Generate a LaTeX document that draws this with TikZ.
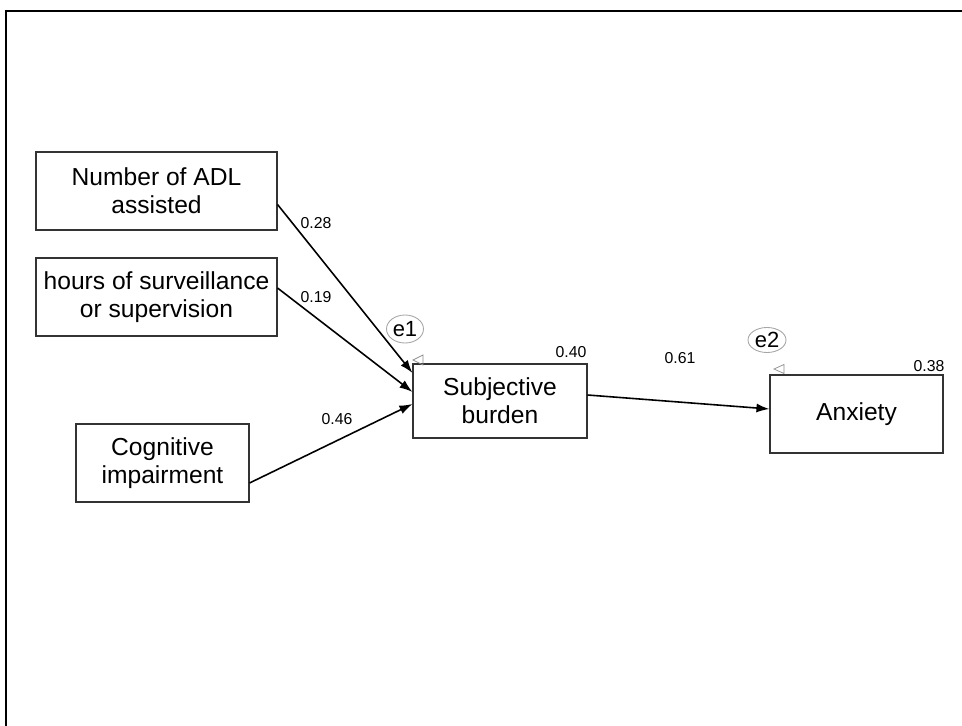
\documentclass[tikz,border=0pt]{standalone}
\usepackage{fontspec}
\setmainfont{Liberation Sans}
\usetikzlibrary{arrows.meta, shapes.geometric}

\tikzset{%
  % Specifications for style of nodes:
         varbox/.style = {rectangle, draw = black!80, line width=0.6pt, minimum height=1.56cm, align=center, font=\fontsize{14}{16}\selectfont},
         errvar/.style = {ellipse, draw = black!35, line width=0.5pt, inner sep=0pt, minimum width=0.74cm, minimum height=0.56cm, font=\fontsize{12.5}{14}\selectfont},
         coef/.style   = {font=\fontsize{9}{10}\selectfont, inner sep=0pt},
         path/.style   = {-{Latex[length=2.6mm,width=1.8mm]}, line width=0.9pt},
         tri/.style    = {draw = black!45, line width=0.4pt},
}

\begin{document}
\begin{tikzpicture}[x=1cm, y=1cm]
    \useasboundingbox (0,0) rectangle (19.24,-14.52);
    % Frame
    \draw[line width=1.1pt] (0.12,-14.6) -- (0.12,-0.22) -- (19.4,-0.22);

    % Draw nodes
    \node (adl)   [varbox, minimum width=4.82cm] at (3.13,-3.82) {Number of ADL\\assisted};
    \node (hours) [varbox, minimum width=4.82cm] at (3.13,-5.94) {hours of surveillance\\or supervision};
    \node (cog)   [varbox, minimum width=3.46cm] at (3.25,-9.26) {Cognitive\\impairment};
    \node (burd)  [varbox, minimum width=3.48cm, minimum height=1.48cm] at (10.0,-8.02) {Subjective\\burden};
    \node (anx)   [varbox, minimum width=3.46cm] at (17.13,-8.28) {Anxiety};

    % Error terms
    \node (e1) [errvar] at (8.10,-6.58) {e1};
    \node (e2) [errvar, minimum width=0.76cm, minimum height=0.50cm] at (15.34,-6.80) {e2};
    \draw[tri] (8.26,-7.20) -- (8.46,-7.10) -- (8.46,-7.30) -- cycle;
    \draw[tri] (15.48,-7.38) -- (15.68,-7.29) -- (15.68,-7.47) -- cycle;

    % Squared multiple correlations
    \node (r1) [coef] at (11.42,-7.04) {0.40};
    \node (r2) [coef] at (18.58,-7.32) {0.38};

    % Draw arrows
    \draw[path] ([yshift=-0.27cm]adl.east) -- ([yshift=0.56cm]burd.west);
    \draw[path] ([yshift=0.18cm]hours.east) -- ([yshift=0.18cm]burd.west);
    \draw[path] ([yshift=-0.40cm]cog.east) -- ([yshift=-0.06cm]burd.west);
    \draw[path] ([yshift=0.12cm]burd.east) -- ([yshift=0.10cm]anx.west);

    % Path coefficients
    \node (c1) [coef] at (6.32,-4.47) {0.28};
    \node (c2) [coef] at (6.32,-5.94) {0.19};
    \node (c3) [coef] at (6.74,-8.38) {0.46};
    \node (c4) [coef] at (13.60,-7.16) {0.61};

\end{tikzpicture}
\end{document}
